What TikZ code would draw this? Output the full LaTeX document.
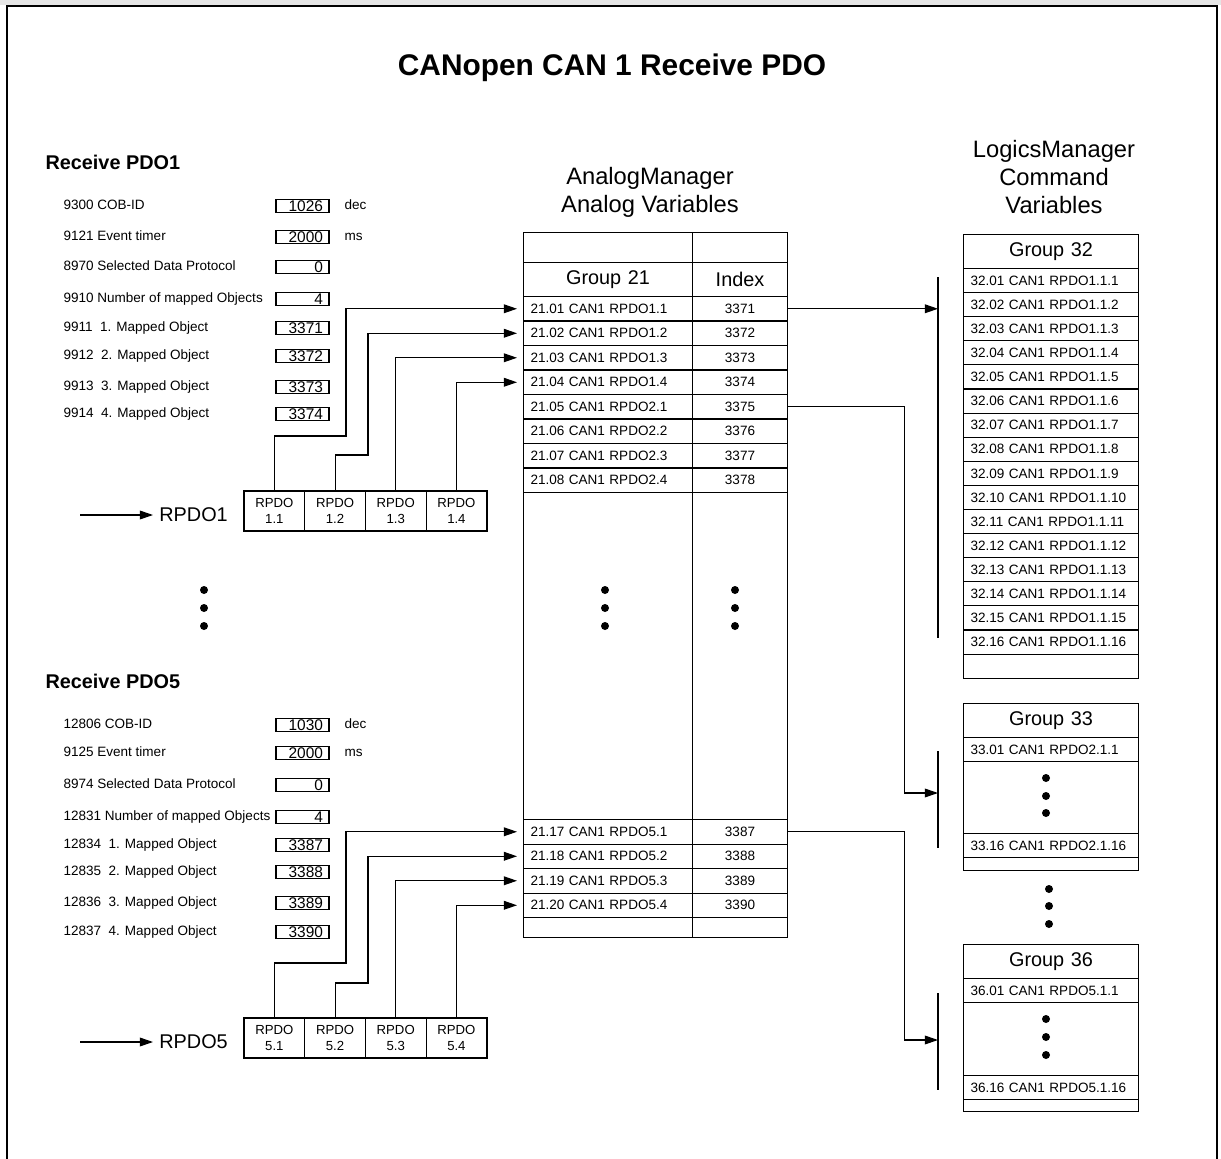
\documentclass[tikz,border=0pt]{standalone}
\usepackage{fontspec}
\setmainfont{Liberation Sans}
\usetikzlibrary{arrows.meta,positioning,calc}

\begin{document}
\begin{tikzpicture}[
    x=0.02cm, y=-0.02cm, line width=0.6pt,
    tiny/.style={font=\fontsize{7.7}{9}\selectfont},
    lab/.style={font=\fontsize{11.3}{13}\selectfont},
    hdr/.style={font=\fontsize{13.5}{16}\selectfont, align=center},
    sect/.style={font=\bfseries\fontsize{11.3}{13}\selectfont, anchor=west, inner sep=0},
    param/.style={tiny, anchor=west, inner sep=0, text height=5.5pt, text depth=1.6pt},
    valbox/.style={draw, font=\fontsize{8.8}{10}\selectfont, text width=0.82cm, inner xsep=0.12cm, inner ysep=0, minimum height=0.26cm, align=right, text height=6.2pt, text depth=0.2pt},
    pcell/.style={draw, minimum width=1.214cm, minimum height=0.8cm, inner sep=0, outer sep=0, align=center, font=\fontsize{7.5}{9}\selectfont},
    gcell/.style={tiny, draw, anchor=north west, text width=3.1cm, inner xsep=0.14cm, inner ysep=0, minimum height=0.49cm, align=left},
    icell/.style={tiny, draw, anchor=north west, minimum width=1.9cm, inner sep=0, minimum height=0.49cm},
    lcell/.style={tiny, draw, anchor=north west, text width=3.22cm, inner xsep=0.14cm, inner ysep=0, minimum height=0.482cm, align=left},
    ghead/.style={lab, align=center, minimum height=0.68cm},
    conn/.style={-{Triangle[length=7.5pt,width=5pt]}},
    feed/.style={conn, shorten >=0.12cm},
    bar/.style={line width=0.8pt}
  ]
  \useasboundingbox (0,0) rectangle (1221,1159);

  % frame and title
  \fill[black!10] (0,0) rectangle (1221,5);
  \draw[line width=0.9pt] (7,1159) -- (7,6) -- (1217,6) -- (1217,1159);
  \node[font=\bfseries\fontsize{17}{20}\selectfont] (title) at (612,68) {CANopen CAN 1 Receive PDO};

  % receive PDO1 parameters
  \node[sect] (rx1) at (45,162) {Receive PDO1};
  \foreach \y/\t/\v [count=\i] in {206/9300 COB-ID/1026, 237/9121 Event timer/2000,
      267/8970 Selected Data Protocol/0, 299/9910 Number of mapped Objects/4,
      328/9911~ 1. Mapped Object/3371, 356/9912~ 2. Mapped Object/3372,
      387/9913~ 3. Mapped Object/3373, 414/9914~ 4. Mapped Object/3374} {
    \node[param] (pa\i) at (63,\y) {\t};
    \node[valbox] (va\i) at (302.5,\y) {\v};
  }
  \node[param] (ua1) at (344,206) {dec};
  \node[param] (ua2) at (344,237) {ms};

  % RPDO1 frame
  \coordinate (ina) at (80,515);
  \node[lab, anchor=west] (rpa) at (153,515) {RPDO1};
  \draw[conn] (ina) -- (rpa);
  \node[pcell, anchor=north west] (ra1) at (244,491) {RPDO\\1.1};
  \node[pcell, right=0pt of ra1] (ra2) {RPDO\\1.2};
  \node[pcell, right=0pt of ra2] (ra3) {RPDO\\1.3};
  \node[pcell, right=0pt of ra3] (ra4) {RPDO\\1.4};
  \draw[line width=1.2pt] (ra1.north west) rectangle (ra4.south east);

  % receive PDO5 parameters
  \node[sect] (rx5) at (45,681) {Receive PDO5};
  \foreach \y/\t/\v [count=\i] in {725/12806 COB-ID/1030, 753/9125 Event timer/2000,
      785/8974 Selected Data Protocol/0, 817/12831 Number of mapped Objects/4,
      845/12834~ 1. Mapped Object/3387, 872/12835~ 2. Mapped Object/3388,
      903/12836~ 3. Mapped Object/3389, 932/12837~ 4. Mapped Object/3390} {
    \node[param] (pb\i) at (63,\y) {\t};
    \node[valbox] (vb\i) at (302.5,\y) {\v};
  }
  \node[param] (ub1) at (344,725) {dec};
  \node[param] (ub2) at (344,753) {ms};

  % RPDO5 frame
  \coordinate (inb) at (80,1042);
  \node[lab, anchor=west] (rpb) at (153,1042) {RPDO5};
  \draw[conn] (inb) -- (rpb);
  \node[pcell, anchor=north west] (rb1) at (244,1018) {RPDO\\5.1};
  \node[pcell, right=0pt of rb1] (rb2) {RPDO\\5.2};
  \node[pcell, right=0pt of rb2] (rb3) {RPDO\\5.3};
  \node[pcell, right=0pt of rb3] (rb4) {RPDO\\5.4};
  \draw[line width=1.2pt] (rb1.north west) rectangle (rb4.south east);

  % analog variables, group 21
  \node[hdr] (amgr) at (650,192) {AnalogManager\\Analog Variables};
  \node[gcell, minimum height=0.6cm] (gtop) at (523,232) {};
  \node[icell, minimum height=0.6cm] (xtop) at (692,232) {};
  \node[gcell, ghead] (ghd) at (523,262) {Group 21};
  \node[icell, ghead] (xhd) at (692,262) {Index};
  \foreach \i/\t in {1/1.1,2/1.2,3/1.3,4/1.4,5/2.1,6/2.2,7/2.3,8/2.4} {
    \pgfmathsetmacro\y{296+(\i-1)*24.5}
    \pgfmathtruncatemacro\idx{3370+\i}
    \node[gcell] (g\i) at (523,\y) {21.0\i{} CAN1 RPDO\t};
    \node[icell] (x\i) at (692,\y) {\idx};
  }
  \node[gcell, minimum height=6.54cm] (gmid) at (523,492) {};
  \node[icell, minimum height=6.54cm] (xmid) at (692,492) {};
  \foreach \i/\t in {17/5.1,18/5.2,19/5.3,20/5.4} {
    \pgfmathsetmacro\y{819+(\i-17)*24.5}
    \pgfmathtruncatemacro\idx{3370+\i}
    \node[gcell] (g\i) at (523,\y) {21.\i{} CAN1 RPDO\t};
    \node[icell] (x\i) at (692,\y) {\idx};
  }
  \node[gcell, minimum height=0.4cm] (gbot) at (523,917) {};
  \node[icell, minimum height=0.4cm] (xbot) at (692,917) {};

  % mapping into group 21
  \draw[feed] (ra1.north) |- (346,436) |- (g1.west);
  \draw[feed] (ra2.north) |- (368,455) |- (g2.west);
  \draw[feed] (ra3.north) |- (g3.west);
  \draw[feed] (ra4.north) |- (g4.west);
  \draw[feed] (rb1.north) |- (346,963) |- (g17.west);
  \draw[feed] (rb2.north) |- (368,983) |- (g18.west);
  \draw[feed] (rb3.north) |- (g19.west);
  \draw[feed] (rb4.north) |- (g20.west);

  % omitted PDOs
  \foreach \y in {590,608,626} {
    \fill (204,\y) circle (0.08cm);
    \fill (605,\y) circle (0.08cm);
    \fill (735,\y) circle (0.08cm);
  }

  % command variables
  \node[hdr] (lmgr) at (1054,177) {LogicsManager\\Command\\Variables};
  \node[lcell, ghead] (h32) at (963,234) {Group 32};
  \foreach \i in {1,...,16} {
    \pgfmathsetmacro\y{268+(\i-1)*24.1}
    \node[lcell] (l32-\i) at (963,\y) {32.\ifnum\i<10 0\fi\i{} CAN1 RPDO1.1.\i};
  }
  \node[lcell, minimum height=0.49cm] (l32-e) at (963,653.6) {};

  \node[lcell, ghead] (h33) at (963,703) {Group 33};
  \node[lcell] (l33-1) at (963,737) {33.01 CAN1 RPDO2.1.1};
  \node[lcell, minimum height=1.44cm] (l33-m) at (963,761) {};
  \node[lcell] (l33-16) at (963,833) {33.16 CAN1 RPDO2.1.16};
  \node[lcell, minimum height=0.26cm] (l33-e) at (963,857) {};

  \node[lcell, ghead] (h36) at (963,944) {Group 36};
  \node[lcell] (l36-1) at (963,978) {36.01 CAN1 RPDO5.1.1};
  \node[lcell, minimum height=1.46cm] (l36-m) at (963,1002) {};
  \node[lcell] (l36-16) at (963,1075) {36.16 CAN1 RPDO5.1.16};
  \node[lcell, minimum height=0.24cm] (l36-e) at (963,1099) {};

  \foreach \y in {778,796,813} \fill (1046,\y) circle (0.08cm);
  \foreach \y in {889,906,924} \fill (1049,\y) circle (0.08cm);
  \foreach \y in {1019,1037,1055} \fill (1046,\y) circle (0.08cm);

  % mapping into command variables
  \coordinate (b32t) at (938,277);
  \coordinate (b32b) at (938,638);
  \draw[bar] (b32t) -- (b32b);
  \draw[conn] (x1.east) -- (x1.east -| b32t);

  \coordinate (b33t) at (938,751);
  \coordinate (b33b) at (938,848);
  \coordinate (t33) at (938,793);
  \draw[bar] (b33t) -- (b33b);
  \draw[conn] (x5.east) -- ++(116,0) |- (t33);

  \coordinate (b36t) at (938,993);
  \coordinate (b36b) at (938,1090);
  \coordinate (t36) at (938,1040);
  \draw[bar] (b36t) -- (b36b);
  \draw[conn] (x17.east) -- ++(116,0) |- (t36);
\end{tikzpicture}
\end{document}
